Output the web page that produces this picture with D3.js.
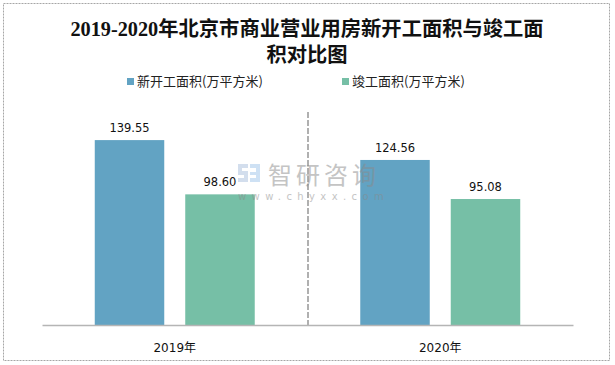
<!DOCTYPE html>
<html><head><meta charset="utf-8">
<script src="https://cdn.jsdelivr.net/npm/d3@7"></script>
<style>body{margin:0;background:#fff}svg{display:block}</style>
</head><body>
<svg id="c" width="615" height="365"></svg>
<script>
const categories = ["2019年", "2020年"];
const seriesNames = ["新开工面积(万平方米)", "竣工面积(万平方米)"];
const newStart = [139.55, 124.56];
const completed = [98.60, 95.08];
const colors = ["#62a3c3", "#76bfa6"];
const titleLines = ["2019-2020年北京市商业营业用房新开工面积与竣工面", "积对比图"];

const svg = d3.select("#c");
svg.append("rect").attr("x",3.5).attr("y",3.5).attr("width",606).attr("height",357)
  .attr("fill","#fff").attr("stroke","#a6a6a6").attr("stroke-width",1).attr("stroke-dasharray","2,1");

const x0 = d3.scaleBand().domain(categories).range([42, 573]);
const x1 = d3.scaleBand().domain(seriesNames).range([0, x0.bandwidth()]).paddingInner(0.232).paddingOuter(0.583);
const y = d3.scaleLinear().domain([0, 160]).range([325, 113]);

// title
const tf = "'Liberation Serif','Noto Sans CJK SC',serif";
svg.selectAll(".title").data(titleLines).join("text")
  .attr("x", 307).attr("y", (d,i)=>36 + i*26)
  .attr("text-anchor","middle").attr("font-family", tf).attr("font-weight","bold")
  .attr("font-size", 20.3).attr("fill","#111").text(d=>d);

// legend
const lg = [{x:127, name:seriesNames[0], c:colors[0]}, {x:342, name:seriesNames[1], c:colors[1]}];
lg.forEach(l=>{
  svg.append("rect").attr("x",l.x).attr("y",78).attr("width",7).attr("height",7).attr("fill",l.c);
  svg.append("text").attr("x",l.x+10).attr("y",86).attr("font-family","'Noto Sans CJK SC',sans-serif")
    .attr("font-size",13).attr("fill","#222").text(l.name);
});

// separator
svg.append("line").attr("x1",308).attr("x2",308).attr("y1",112).attr("y2",325)
  .attr("stroke","#b0b0b0").attr("stroke-width",2).attr("stroke-dasharray","6,2");

const data = categories.map((c,i)=>({cat:c, vals:[newStart[i], completed[i]]}));
const g = svg.selectAll(".grp").data(data).join("g").attr("transform", d=>`translate(${x0(d.cat)},0)`);
g.selectAll("rect").data(d=>d.vals.map((v,j)=>({v, s:seriesNames[j], j}))).join("rect")
  .attr("x", d=>x1(d.s)).attr("width", x1.bandwidth())
  .attr("y", d=>y(d.v)).attr("height", d=>y(0)-y(d.v)).attr("fill", d=>colors[d.j]);
g.selectAll("text.lbl").data(d=>d.vals.map((v,j)=>({v, s:seriesNames[j]}))).join("text")
  .attr("class","lbl").attr("x", d=>x1(d.s)+x1.bandwidth()/2).attr("y", d=>y(d.v)-8)
  .attr("text-anchor","middle").attr("font-family","'DejaVu Sans',sans-serif").attr("font-size",11.5)
  .attr("fill","#111").text(d=>d.v.toFixed(2));

// watermark (on top)
const wm = svg.append("g").attr("opacity",0.5);
wm.append("path").attr("d","M238,164h10v4h-6v3h6v11h-10v-4h6v-3h-6z").attr("fill","#a8bfdc");
wm.append("path").attr("d","M250,164h10v18h-10v-4h6v-3h-6v-3h6v-4h-6z").attr("fill","#9fc4ea");
wm.append("text").attr("x",268).attr("y",184).attr("font-family","'Noto Sans CJK SC',sans-serif")
  .attr("font-size",24).attr("fill","#8a8a8a").attr("letter-spacing",4).text("智研咨询");
wm.append("text").attr("x",238).attr("y",200).attr("font-family","'DejaVu Sans',sans-serif")
  .attr("font-size",10).attr("fill","#8a8a8a").attr("letter-spacing",5.4).text("www.chyxx.com");

// axis
const ax = svg.append("g").attr("transform","translate(0,325)").call(d3.axisBottom(x0).tickSize(0).tickPadding(18));
ax.select(".domain").attr("stroke","#b5b5b5").attr("stroke-width",1.5);
ax.selectAll("text").attr("font-family","'DejaVu Sans','Noto Sans CJK SC',sans-serif").attr("font-size",12).attr("fill","#111");
</script>
</body></html>
